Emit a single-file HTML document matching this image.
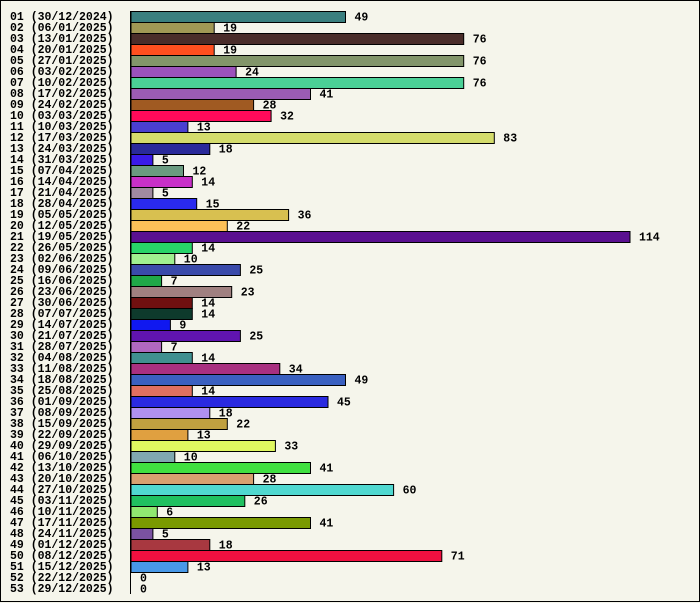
<!DOCTYPE html>
<html><head><meta charset="utf-8"><style>
html,body{margin:0;padding:0;background:#f5f5eb;}
svg{display:block;}
text{font-family:"Liberation Mono",monospace;font-weight:bold;font-size:11.5px;fill:#000;}
</style></head><body>
<svg id="s" width="700" height="603" xmlns="http://www.w3.org/2000/svg">
<rect x="0.5" y="0.5" width="699" height="601" fill="#f5f5eb" stroke="#000"/>
<g id="g"></g>
<line x1="130.5" y1="11" x2="130.5" y2="594" stroke="#000"/>
</svg>
<script>
const d=[["30/12/2024",49,"#3a7f7f"],["06/01/2025",19,"#a09855"],["13/01/2025",76,"#4a2d2a"],["20/01/2025",19,"#ff4f1f"],["27/01/2025",76,"#82956a"],["03/02/2025",24,"#9b52bc"],["10/02/2025",76,"#4bd096"],["17/02/2025",41,"#9b5cb4"],["24/02/2025",28,"#a05a22"],["03/03/2025",32,"#ff0a5a"],["10/03/2025",13,"#4a3fd0"],["17/03/2025",83,"#d4dc6c"],["24/03/2025",18,"#2a2a9a"],["31/03/2025",5,"#3a1ae8"],["07/04/2025",12,"#6a9a80"],["14/04/2025",14,"#c830c8"],["21/04/2025",5,"#a08aa0"],["28/04/2025",15,"#2a2aee"],["05/05/2025",36,"#d8c050"],["12/05/2025",22,"#fcc058"],["19/05/2025",114,"#5a1090"],["26/05/2025",14,"#28d468"],["02/06/2025",10,"#a0f090"],["09/06/2025",25,"#3a4aaa"],["16/06/2025",7,"#20a848"],["23/06/2025",23,"#a08080"],["30/06/2025",14,"#701010"],["07/07/2025",14,"#0e3a2c"],["14/07/2025",9,"#1018f0"],["21/07/2025",25,"#6014b0"],["28/07/2025",7,"#b068c0"],["04/08/2025",14,"#409090"],["11/08/2025",34,"#a83080"],["18/08/2025",49,"#3a60c0"],["25/08/2025",14,"#e07060"],["01/09/2025",45,"#2a2ae0"],["08/09/2025",18,"#b090f0"],["15/09/2025",22,"#c0a040"],["22/09/2025",13,"#e0a040"],["29/09/2025",33,"#e0f860"],["06/10/2025",10,"#80a8b0"],["13/10/2025",41,"#40e040"],["20/10/2025",28,"#d8a070"],["27/10/2025",60,"#50d8d0"],["03/11/2025",26,"#20c060"],["10/11/2025",6,"#90e870"],["17/11/2025",41,"#7a9a00"],["24/11/2025",5,"#7a52a0"],["01/12/2025",18,"#a83840"],["08/12/2025",71,"#f01040"],["15/12/2025",13,"#4898e8"],["22/12/2025",0,""],["29/12/2025",0,""]];
let h="";const k=499/114;
d.forEach((r,i)=>{const y=11+i*11,w=r[1]*k;
const n=String(i+1).padStart(2,"0");
h+=`<text x="10" y="${y+9}">${n} (${r[0]})</text>`;
if(r[1]>0)h+=`<rect x="131" y="${y+0.5}" width="${w.toFixed(1)}" height="11" fill="${r[2]}" stroke="#000"/>`;
h+=`<text x="${(131+w+9).toFixed(1)}" y="${y+9.5}">${r[1]}</text>`;});
document.getElementById("g").innerHTML=h;
</script>
</body></html>
